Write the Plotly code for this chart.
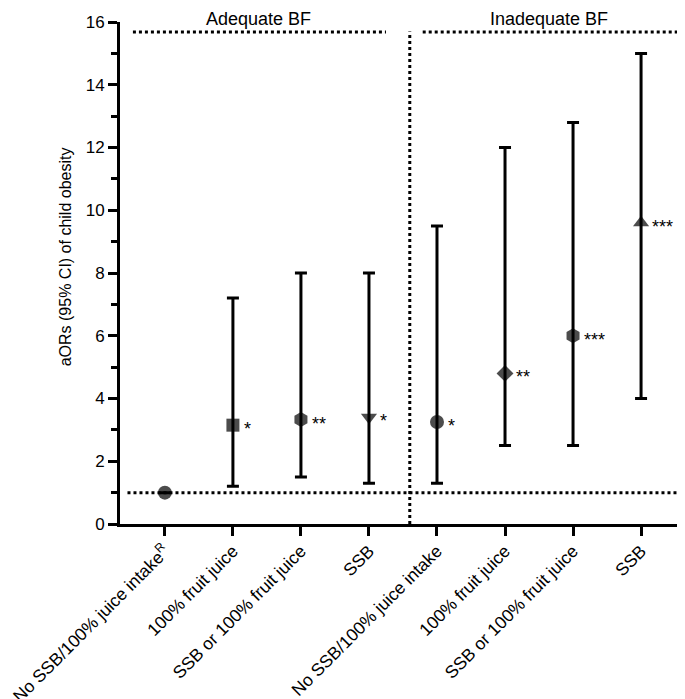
import plotly.graph_objects as go

categories = ["No SSB/100% juice intake<sup>R</sup>", "100% fruit juice", "SSB or 100% fruit juice", "SSB",
              "No SSB/100% juice intake", "100% fruit juice", "SSB or 100% fruit juice", "SSB"]
aor = [1.0, 3.15, 3.33, 3.4, 3.25, 4.8, 6.0, 9.6]
ci_low = [1.0, 1.2, 1.5, 1.3, 1.3, 2.5, 2.5, 4.0]
ci_high = [1.0, 7.2, 8.0, 8.0, 9.5, 12.0, 12.8, 15.0]
stars = ["", "*", "**", "*", "*", "**", "***", "***"]
symbols = ["circle", "square", "hexagon", "triangle-down", "circle", "diamond", "hexagon", "triangle-up"]
group_labels = ["Adequate BF", "Inadequate BF"]
y_title = "aORs (95% CI) of child obesity"

xs = list(range(len(categories)))
font = "Liberation Sans, Arial, sans-serif"

fig = go.Figure()
err_plus = [h - v for h, v in zip(ci_high, aor)]
err_minus = [v - l for v, l in zip(aor, ci_low)]
fig.add_trace(go.Scatter(
    x=xs, y=aor, mode="markers",
    marker=dict(symbol=symbols, size=[14, 13, 15, 14, 14, 13, 15, 14], color="black",
                line=dict(width=0)),
    error_y=dict(type="data", symmetric=False, array=err_plus, arrayminus=err_minus,
                 color="black", thickness=3, width=6),
    showlegend=False, hoverinfo="skip"))

for xi, yi, s in zip(xs, aor, stars):
    if s:
        fig.add_annotation(x=xi, y=yi, xref="x", yref="y", text=s, showarrow=False,
                           xanchor="left", yanchor="middle", xshift=9, yshift=-4,
                           font=dict(family=font, size=18, color="black"))

xmin, xmax = -0.66, 7.69
div = 3.6
dotline = dict(color="black", width=3, dash="3px,3px")
fig.add_shape(type="line", x0=-0.55, x1=xmax, y0=1, y1=1, xref="x", yref="y", line=dotline)
fig.add_shape(type="line", x0=div, x1=div, y0=0, y1=15.7, xref="x", yref="y", line=dotline)
fig.add_shape(type="line", x0=-0.47, x1=3.25, y0=15.68, y1=15.68, xref="x", yref="y", line=dotline)
fig.add_shape(type="line", x0=3.79, x1=xmax, y0=15.68, y1=15.68, xref="x", yref="y", line=dotline)

fig.add_annotation(x=1.38, y=1.0, xref="x", yref="paper", yshift=3, text=group_labels[0],
                   showarrow=False, font=dict(family=font, size=18, color="black"), yanchor="middle")
fig.add_annotation(x=5.65, y=1.0, xref="x", yref="paper", yshift=3, text=group_labels[1],
                   showarrow=False, font=dict(family=font, size=18, color="black"), yanchor="middle")
fig.add_annotation(x=0, y=8.5, xref="paper", yref="y", xshift=-55, text=y_title, textangle=-90,
                   showarrow=False, xanchor="center", yanchor="middle",
                   font=dict(family=font, size=16, color="black"))

fig.update_layout(
    width=685, height=699,
    margin=dict(l=112, r=5, t=14, b=183),
    plot_bgcolor="white", paper_bgcolor="white",
    font=dict(family=font, size=16, color="black"),
    xaxis=dict(range=[xmin, xmax], tickvals=xs, ticktext=categories, tickangle=-45,
               showline=True, linecolor="black", linewidth=3, ticks="outside",
               ticklen=9, tickwidth=3, tickcolor="black", showgrid=False, zeroline=False,
               automargin=False, ticklabeloverflow="allow", ticklabelstandoff=-2,
               tickfont=dict(family=font, size=17.5, color="black")),
    yaxis=dict(range=[0, 16], tickvals=[0, 2, 4, 6, 8, 10, 12, 14, 16],
               showline=True, linecolor="black", linewidth=3, ticks="outside",
               ticklen=9, tickwidth=3, tickcolor="black", showgrid=False, zeroline=False,
               automargin=False,
               minor=dict(tickvals=[1, 3, 5, 7, 9, 11, 13, 15], ticklen=6, tickwidth=3,
                          tickcolor="black", ticks="outside", showgrid=False),
               tickfont=dict(family=font, size=17, color="black")),
)

fig.write_html("out.html")
